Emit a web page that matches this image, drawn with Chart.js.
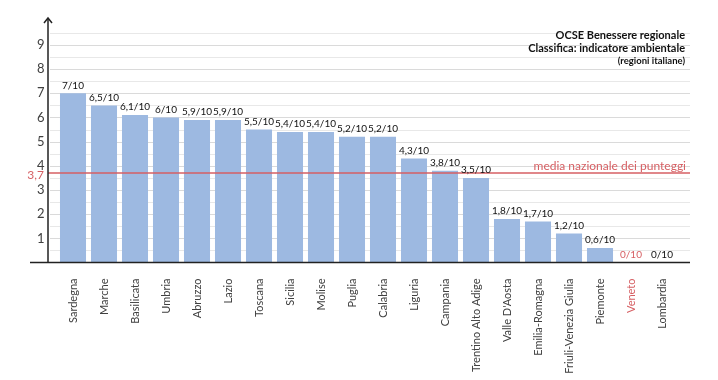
<!DOCTYPE html>
<html>
<head>
<meta charset="utf-8">
<script src="https://cdn.jsdelivr.net/npm/chart.js@4/dist/chart.umd.min.js"></script>
<style>
  html, body { margin: 0; padding: 0; background: #fff; }
  #wrap { width: 718px; height: 380px; position: relative; }
</style>
</head>
<body>
<div id="wrap"><canvas id="chart"></canvas></div>
<script>
// data
const regions = ['Sardegna', 'Marche', 'Basilicata', 'Umbria', 'Abruzzo', 'Lazio', 'Toscana', 'Sicilia', 'Molise', 'Puglia',
  'Calabria', 'Liguria', 'Campania', 'Trentino Alto Adige', "Valle D'Aosta", 'Emilia-Romagna', 'Friuli-Venezia Giulia',
  'Piemonte', 'Veneto', 'Lombardia'];
const scores = [7, 6.5, 6.1, 6, 5.9, 5.9, 5.5, 5.4, 5.4, 5.2, 5.2, 4.3, 3.8, 3.5, 1.8, 1.7, 1.2, 0.6, 0, 0];
const yTicks = [1, 2, 3, 4, 5, 6, 7, 8, 9];
const nationalAverage = 3.7;
const highlighted = 'Veneto';
const titleLines = ['OCSE Benessere regionale', 'Classifica: indicatore ambientale', '(regioni italiane)'];

const RED = '#d65f63';
const FONT = 'Lato, "Open Sans", sans-serif';

const fmt = v => String(v).replace('.', ',') + '/10';

const decorations = {
  id: 'decorations',
  beforeDatasetsDraw(chart) {
    const { ctx } = chart;
    const y = chart.scales.y;
    ctx.save();
    // gridlines (integers and halves)
    for (let v = 0.5; v <= 9.5; v += 0.5) {
      const py = Math.round(y.getPixelForValue(v)) + 0.5;
      ctx.strokeStyle = Number.isInteger(v) ? '#dadada' : '#e8e8e8';
      ctx.lineWidth = 1;
      ctx.beginPath();
      ctx.moveTo(50, py);
      ctx.lineTo(690, py);
      ctx.stroke();
    }
    ctx.restore();
  },
  afterDatasetsDraw(chart) {
    const { ctx } = chart;
    const y = chart.scales.y;
    const meta = chart.getDatasetMeta(0);
    ctx.save();

    // average line
    const ay = y.getPixelForValue(nationalAverage);
    ctx.strokeStyle = RED;
    ctx.lineWidth = 1.5;
    ctx.beginPath();
    ctx.moveTo(48, ay);
    ctx.lineTo(690, ay);
    ctx.stroke();
    ctx.fillStyle = RED;
    ctx.font = '12px ' + FONT;
    ctx.textAlign = 'right';
    ctx.textBaseline = 'middle';
    ctx.fillText(String(nationalAverage).replace('.', ','), 44, ay + 2);
    ctx.font = '12px ' + FONT;
    ctx.textBaseline = 'bottom';
    ctx.fillText('media nazionale dei punteggi', 686, ay - 1);

    // axes
    const by = y.getPixelForValue(0);
    ctx.strokeStyle = '#222';
    ctx.lineWidth = 1.5;
    ctx.beginPath();
    ctx.moveTo(30, by);
    ctx.lineTo(690, by);
    ctx.moveTo(48, by);
    ctx.lineTo(48, 18);
    ctx.stroke();
    ctx.beginPath();
    ctx.moveTo(44, 23);
    ctx.lineTo(48, 18);
    ctx.lineTo(52, 23);
    ctx.stroke();

    // value labels
    ctx.font = '10px ' + FONT;
    ctx.textAlign = 'center';
    ctx.textBaseline = 'bottom';
    meta.data.forEach((bar, i) => {
      ctx.fillStyle = regions[i] === highlighted ? RED : '#111';
      ctx.fillText(fmt(scores[i]), bar.x, bar.y - 3);
    });

    // title block
    ctx.fillStyle = '#111';
    ctx.textAlign = 'right';
    ctx.textBaseline = 'middle';
    ctx.font = 'bold 11px ' + FONT;
    ctx.fillText(titleLines[0], 685, 35);
    ctx.fillText(titleLines[1], 685, 48);
    ctx.font = 'bold 9.5px ' + FONT;
    ctx.fillText(titleLines[2], 685, 61);
    ctx.restore();
  }
};

new Chart(document.getElementById('chart'), {
  type: 'bar',
  data: {
    labels: regions,
    datasets: [{
      data: scores,
      backgroundColor: '#9db9e1',
      borderWidth: 0,
      barPercentage: 0.84,
      categoryPercentage: 1
    }]
  },
  options: {
    responsive: true,
    maintainAspectRatio: false,
    animation: false,
    layout: { padding: { left: 0, right: 40.5, top: 17.5, bottom: 0 } },
    plugins: { legend: { display: false }, tooltip: { enabled: false } },
    scales: {
      x: {
        grid: { display: false },
        border: { display: false },
        afterFit: s => { s.height = 117.5; },
        ticks: {
          minRotation: 90,
          maxRotation: 90,
          autoSkip: false,
          padding: 8,
          font: { family: FONT, size: 11 },
          color: ctx => regions[ctx.index] === highlighted ? RED : '#404040'
        }
      },
      y: {
        min: 0,
        max: 10,
        grid: { display: false, drawTicks: false },
        border: { display: false },
        afterFit: s => { s.width = 57.5; },
        afterBuildTicks: s => { s.ticks = yTicks.map(v => ({ value: v })); },
        ticks: {
          padding: 13,
          font: { family: FONT, size: 13 },
          color: '#404040'
        }
      }
    }
  },
  plugins: [decorations]
});
</script>
</body>
</html>
